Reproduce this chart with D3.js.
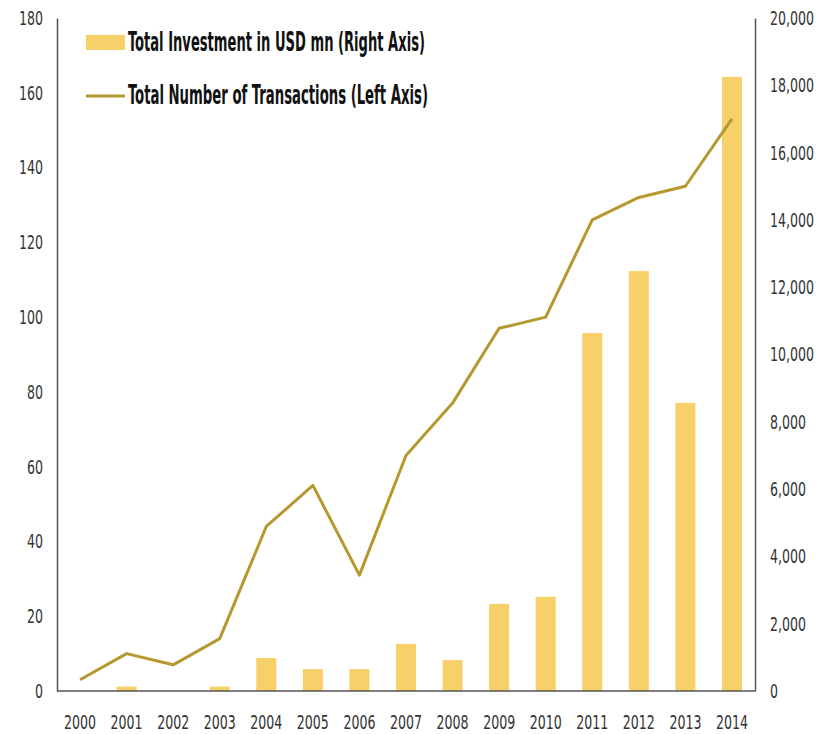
<!DOCTYPE html>
<html>
<head>
<meta charset="utf-8">
<script src="https://cdn.jsdelivr.net/npm/d3@7"></script>
<style>
  body { margin: 0; background: #fff; }
  text { font-family: "DejaVu Sans Condensed", "Liberation Sans Narrow", sans-serif; }
</style>
</head>
<body>
<svg width="835" height="734"></svg>
<script>
const years = ['2000','2001','2002','2003','2004','2005','2006','2007','2008','2009','2010','2011','2012','2013','2014'];
const investment = [0, 130, 0, 130, 980, 650, 650, 1400, 920, 2590, 2800, 10640, 12480, 8560, 18250];
const transactions = [3, 10, 7, 14, 44, 55, 31, 63, 77, 97, 100, 126, 132, 135, 153];
const leftTicks = [0, 20, 40, 60, 80, 100, 120, 140, 160, 180];
const rightTicks = [0, 2000, 4000, 6000, 8000, 10000, 12000, 14000, 16000, 18000, 20000];

const svg = d3.select('svg');
const plotLeft = 57, plotRight = 755, plotTop = 18, plotBottom = 691;

const x = d3.scaleBand()
    .domain(years)
    .range([plotLeft, plotRight])
    .paddingInner(0.57)
    .paddingOuter(0.28);

const yLeft = d3.scaleLinear().domain([0, 180]).range([plotBottom, plotTop]);
const yRight = d3.scaleLinear().domain([0, 20000]).range([plotBottom, plotTop]);

const barColor = '#f8d06a';
const lineColor = '#b69830';

// bars
svg.append('g')
  .selectAll('rect')
  .data(investment)
  .join('rect')
    .attr('x', (d, i) => x(years[i]))
    .attr('width', x.bandwidth())
    .attr('y', d => yRight(d))
    .attr('height', d => plotBottom - yRight(d))
    .attr('fill', barColor);

// line
const line = d3.line()
    .x((d, i) => x(years[i]) + x.bandwidth() / 2)
    .y(d => yLeft(d));

svg.append('path')
    .datum(transactions)
    .attr('d', line)
    .attr('fill', 'none')
    .attr('stroke', lineColor)
    .attr('stroke-width', 3)
    .attr('stroke-linejoin', 'round');

// axes
const axisColor = '#555';
const gl = svg.append('g')
    .attr('transform', `translate(${plotLeft},0)`)
    .call(d3.axisLeft(yLeft).tickValues(leftTicks).tickSize(0).tickPadding(14));
const gr = svg.append('g')
    .attr('transform', `translate(${plotRight},0)`)
    .call(d3.axisRight(yRight).tickValues(rightTicks).tickSize(0).tickPadding(15).tickFormat(d3.format(',')));
const gx = svg.append('g')
    .attr('transform', `translate(0,${plotBottom})`)
    .call(d3.axisBottom(x).tickSize(0).tickPadding(24).tickSizeOuter(0));

// narrow look: squeeze the condensed font to the reference widths
const narrowWidth = s => s.replace(/,/g, '').length * 8 + (s.split(',').length - 1) * 4;

[gl, gr, gx].forEach(g => {
  g.select('.domain').attr('stroke', axisColor).attr('stroke-width', 1.5);
  g.selectAll('text')
    .attr('fill', '#333')
    .style('font-size', '20px')
    .attr('textLength', function () { return narrowWidth(this.textContent); })
    .attr('lengthAdjust', 'spacingAndGlyphs');
});
gx.select('.domain').attr('d', `M${plotLeft},0H${plotRight}`);

// legend
const legend = svg.append('g');
legend.append('rect')
    .attr('x', 86).attr('y', 35)
    .attr('width', 39).attr('height', 15)
    .attr('fill', barColor);
legend.append('line')
    .attr('x1', 86).attr('x2', 125)
    .attr('y1', 96).attr('y2', 96)
    .attr('stroke', lineColor).attr('stroke-width', 3);
legend.append('text')
    .attr('x', 128).attr('y', 51)
    .attr('fill', '#111')
    .attr('textLength', 297)
    .attr('lengthAdjust', 'spacingAndGlyphs')
    .style('font-size', '27px')
    .style('font-weight', 'bold')
    .text('Total Investment in USD mn (Right Axis)');
legend.append('text')
    .attr('x', 128).attr('y', 104)
    .attr('fill', '#111')
    .attr('textLength', 300)
    .attr('lengthAdjust', 'spacingAndGlyphs')
    .style('font-size', '27px')
    .style('font-weight', 'bold')
    .text('Total Number of Transactions (Left Axis)');
</script>
</body>
</html>
